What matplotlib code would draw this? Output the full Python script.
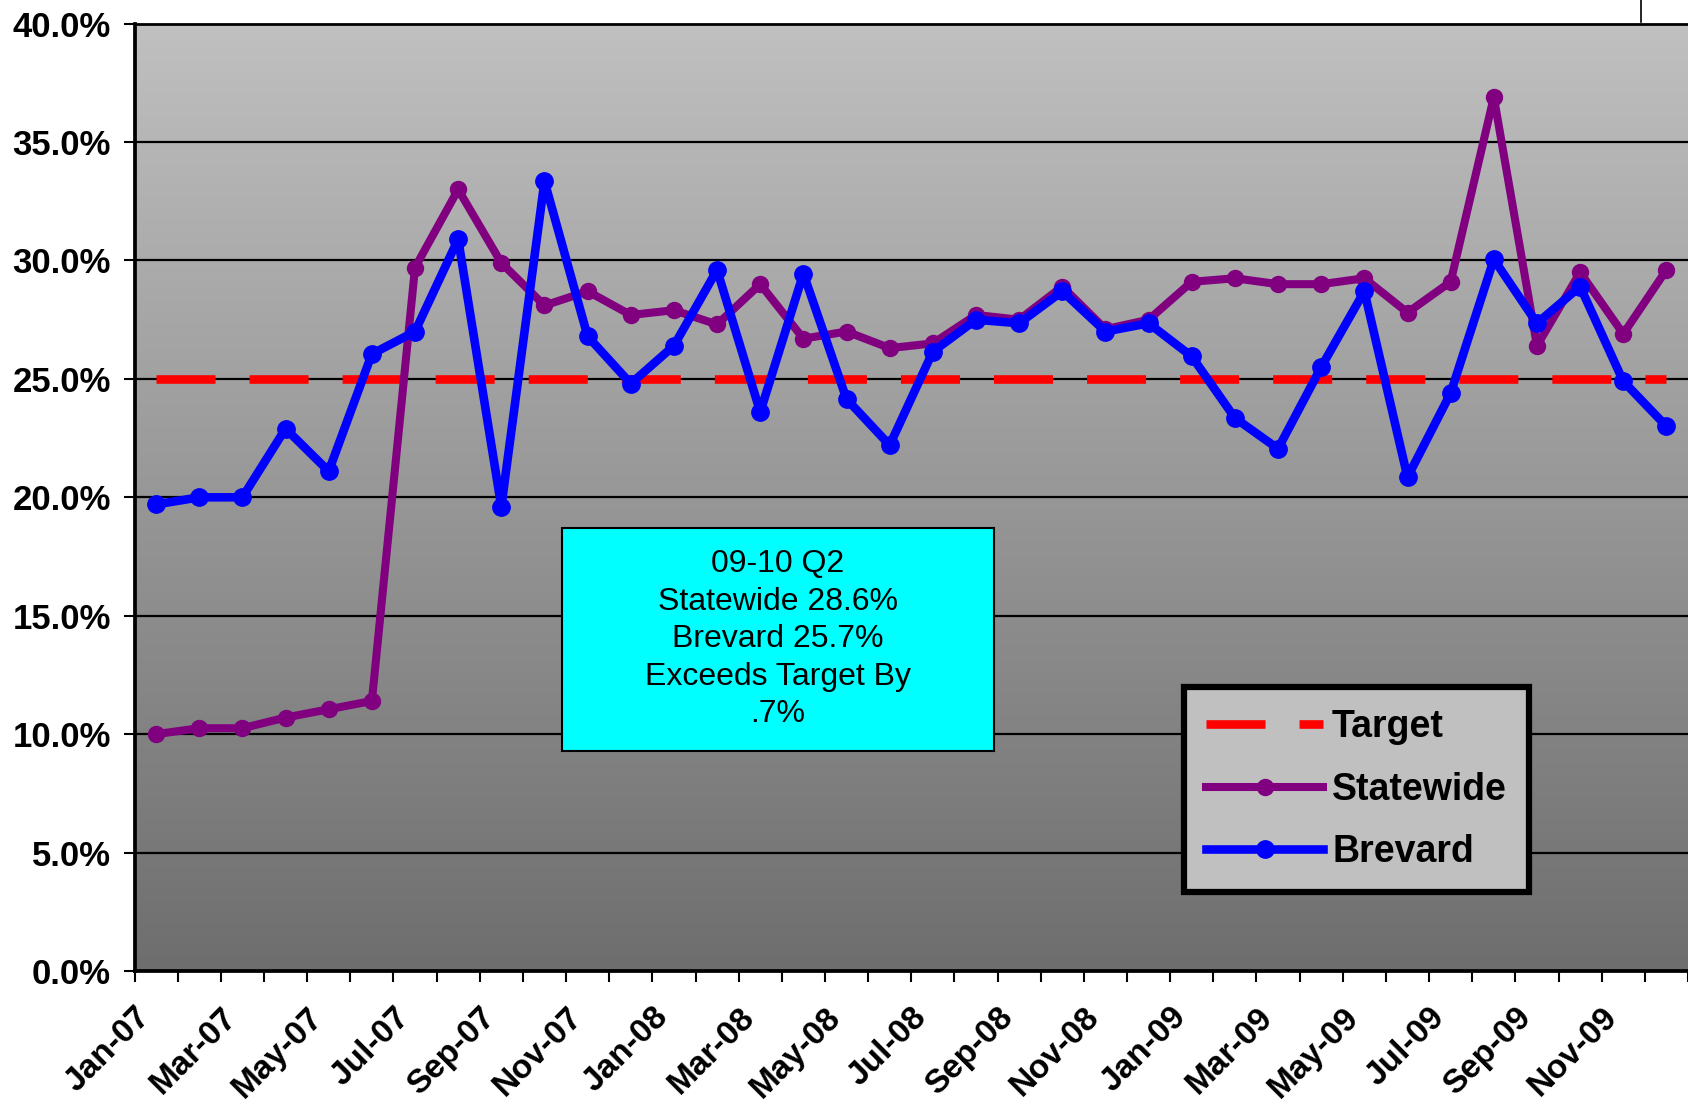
import numpy as np
import matplotlib
matplotlib.use("Agg")
import matplotlib.pyplot as plt
from matplotlib.lines import Line2D
from matplotlib.patches import Rectangle
from matplotlib.transforms import ScaledTranslation

plt.rcParams['font.family'] = ['Liberation Sans', 'DejaVu Sans']
plt.rcParams['lines.scale_dashes'] = False

# data (percent), Jan-07 .. Dec-09
tick_labels = ['Jan-07', 'Mar-07', 'May-07', 'Jul-07', 'Sep-07', 'Nov-07',
               'Jan-08', 'Mar-08', 'May-08', 'Jul-08', 'Sep-08', 'Nov-08',
               'Jan-09', 'Mar-09', 'May-09', 'Jul-09', 'Sep-09', 'Nov-09']
statewide = [10.0, 10.25, 10.25, 10.7, 11.05, 11.4, 29.7, 33.0, 29.9, 28.1,
             28.7, 27.7, 27.9, 27.3, 29.0, 26.7, 27.0, 26.3, 26.5, 27.7,
             27.5, 28.9, 27.1, 27.5, 29.1, 29.25, 29.0, 29.0, 29.25, 27.8,
             29.1, 36.9, 26.4, 29.5, 26.9, 29.6]
brevard = [19.7, 20.0, 20.0, 22.9, 21.1, 26.05, 27.0, 30.9, 19.6, 33.35,
           26.8, 24.8, 26.4, 29.6, 23.6, 29.45, 24.15, 22.2, 26.15, 27.5,
           27.35, 28.7, 27.0, 27.35, 25.95, 23.35, 22.05, 25.5, 28.7, 20.85,
           24.4, 30.05, 27.35, 28.9, 24.9, 23.0]
target = [25.0] * 36

n = len(brevard)
x = np.arange(n) + 0.5

fig = plt.figure(figsize=(16.88, 11.06), dpi=100)
ax = fig.add_axes([0.0797, 0.1221, 0.9203, 0.8565])

# gradient background
grad = np.linspace(192, 110, 256).reshape(-1, 1) / 255.0
ax.imshow(np.repeat(grad, 3, axis=1).reshape(256, 1, 3), extent=[0, 1, 0, 1],
          transform=ax.transAxes, aspect='auto', zorder=0)

ax.set_xlim(0, n)
ax.set_ylim(0, 40)

for yv in np.arange(5, 40, 5):
    ax.axhline(yv, color='black', lw=1.6, zorder=1)

ax.plot(x, target, color='#FF0000', lw=6.2, dashes=(42.5, 24.5),
        dash_capstyle='butt', label='Target', zorder=2)
ax.plot(x, statewide, color='#800080', lw=5.8, marker='o', ms=11.5,
        label='Statewide', zorder=3)
ax.plot(x, brevard, color='#0000FF', lw=6.2, marker='o', ms=12.5,
        label='Brevard', zorder=4)

ax.set_yticks(np.arange(0, 41, 5))
ax.set_yticklabels(['%.1f%%' % v for v in np.arange(0, 41, 5)],
                   fontsize=25, fontweight='bold')
ax.set_xticks(np.arange(0, n + 1))
xl = [''] * (n + 1)
for k, lab in enumerate(tick_labels):
    xl[2 * k] = lab
ax.set_xticklabels(xl, fontsize=24, fontweight='bold', rotation=45,
                   ha='right', rotation_mode='anchor')
shift = ScaledTranslation(-9 / 100, -4 / 100, fig.dpi_scale_trans)
for t in ax.get_xticklabels():
    t.set_transform(t.get_transform() + shift)
ax.tick_params(axis='both', direction='out', length=8, width=1.5,
               color='black')
ax.tick_params(axis='y', pad=9)
ax.tick_params(axis='x', pad=14)

ax.spines['right'].set_visible(False)
ax.spines['top'].set_linewidth(2.0)
ax.spines['left'].set_linewidth(2.7)
ax.spines['bottom'].set_linewidth(2.7)

# annotation box
ax.add_patch(Rectangle((0.2750, 0.2327), 0.2784, 0.2350, transform=ax.transAxes,
                       facecolor='#00FFFF', edgecolor='black', lw=1.5,
                       zorder=6))
ax.text(0.4142, 0.3502, '09-10 Q2\nStatewide 28.6%\nBrevard 25.7%\n'
        'Exceeds Target By\n.7%', transform=ax.transAxes, ha='center',
        va='center', fontsize=23, linespacing=1.33, zorder=7)

leg = ax.legend(loc='upper left', bbox_to_anchor=(0.6755, 0.2998),
                borderaxespad=0, prop={'weight': 'bold', 'size': 27},
                handlelength=3.1, handletextpad=0.25, labelspacing=0.7,
                borderpad=0.6, fancybox=False, framealpha=1,
                facecolor='#C0C0C0', edgecolor='black')
leg.get_frame().set_linewidth(4.5)
leg.set_zorder(8)

fig.add_artist(Line2D([1641 / 1688, 1641 / 1688], [1 - 22 / 1106, 1],
                      transform=fig.transFigure, color='black', lw=1.2))

fig.savefig('out.png', dpi=100)
